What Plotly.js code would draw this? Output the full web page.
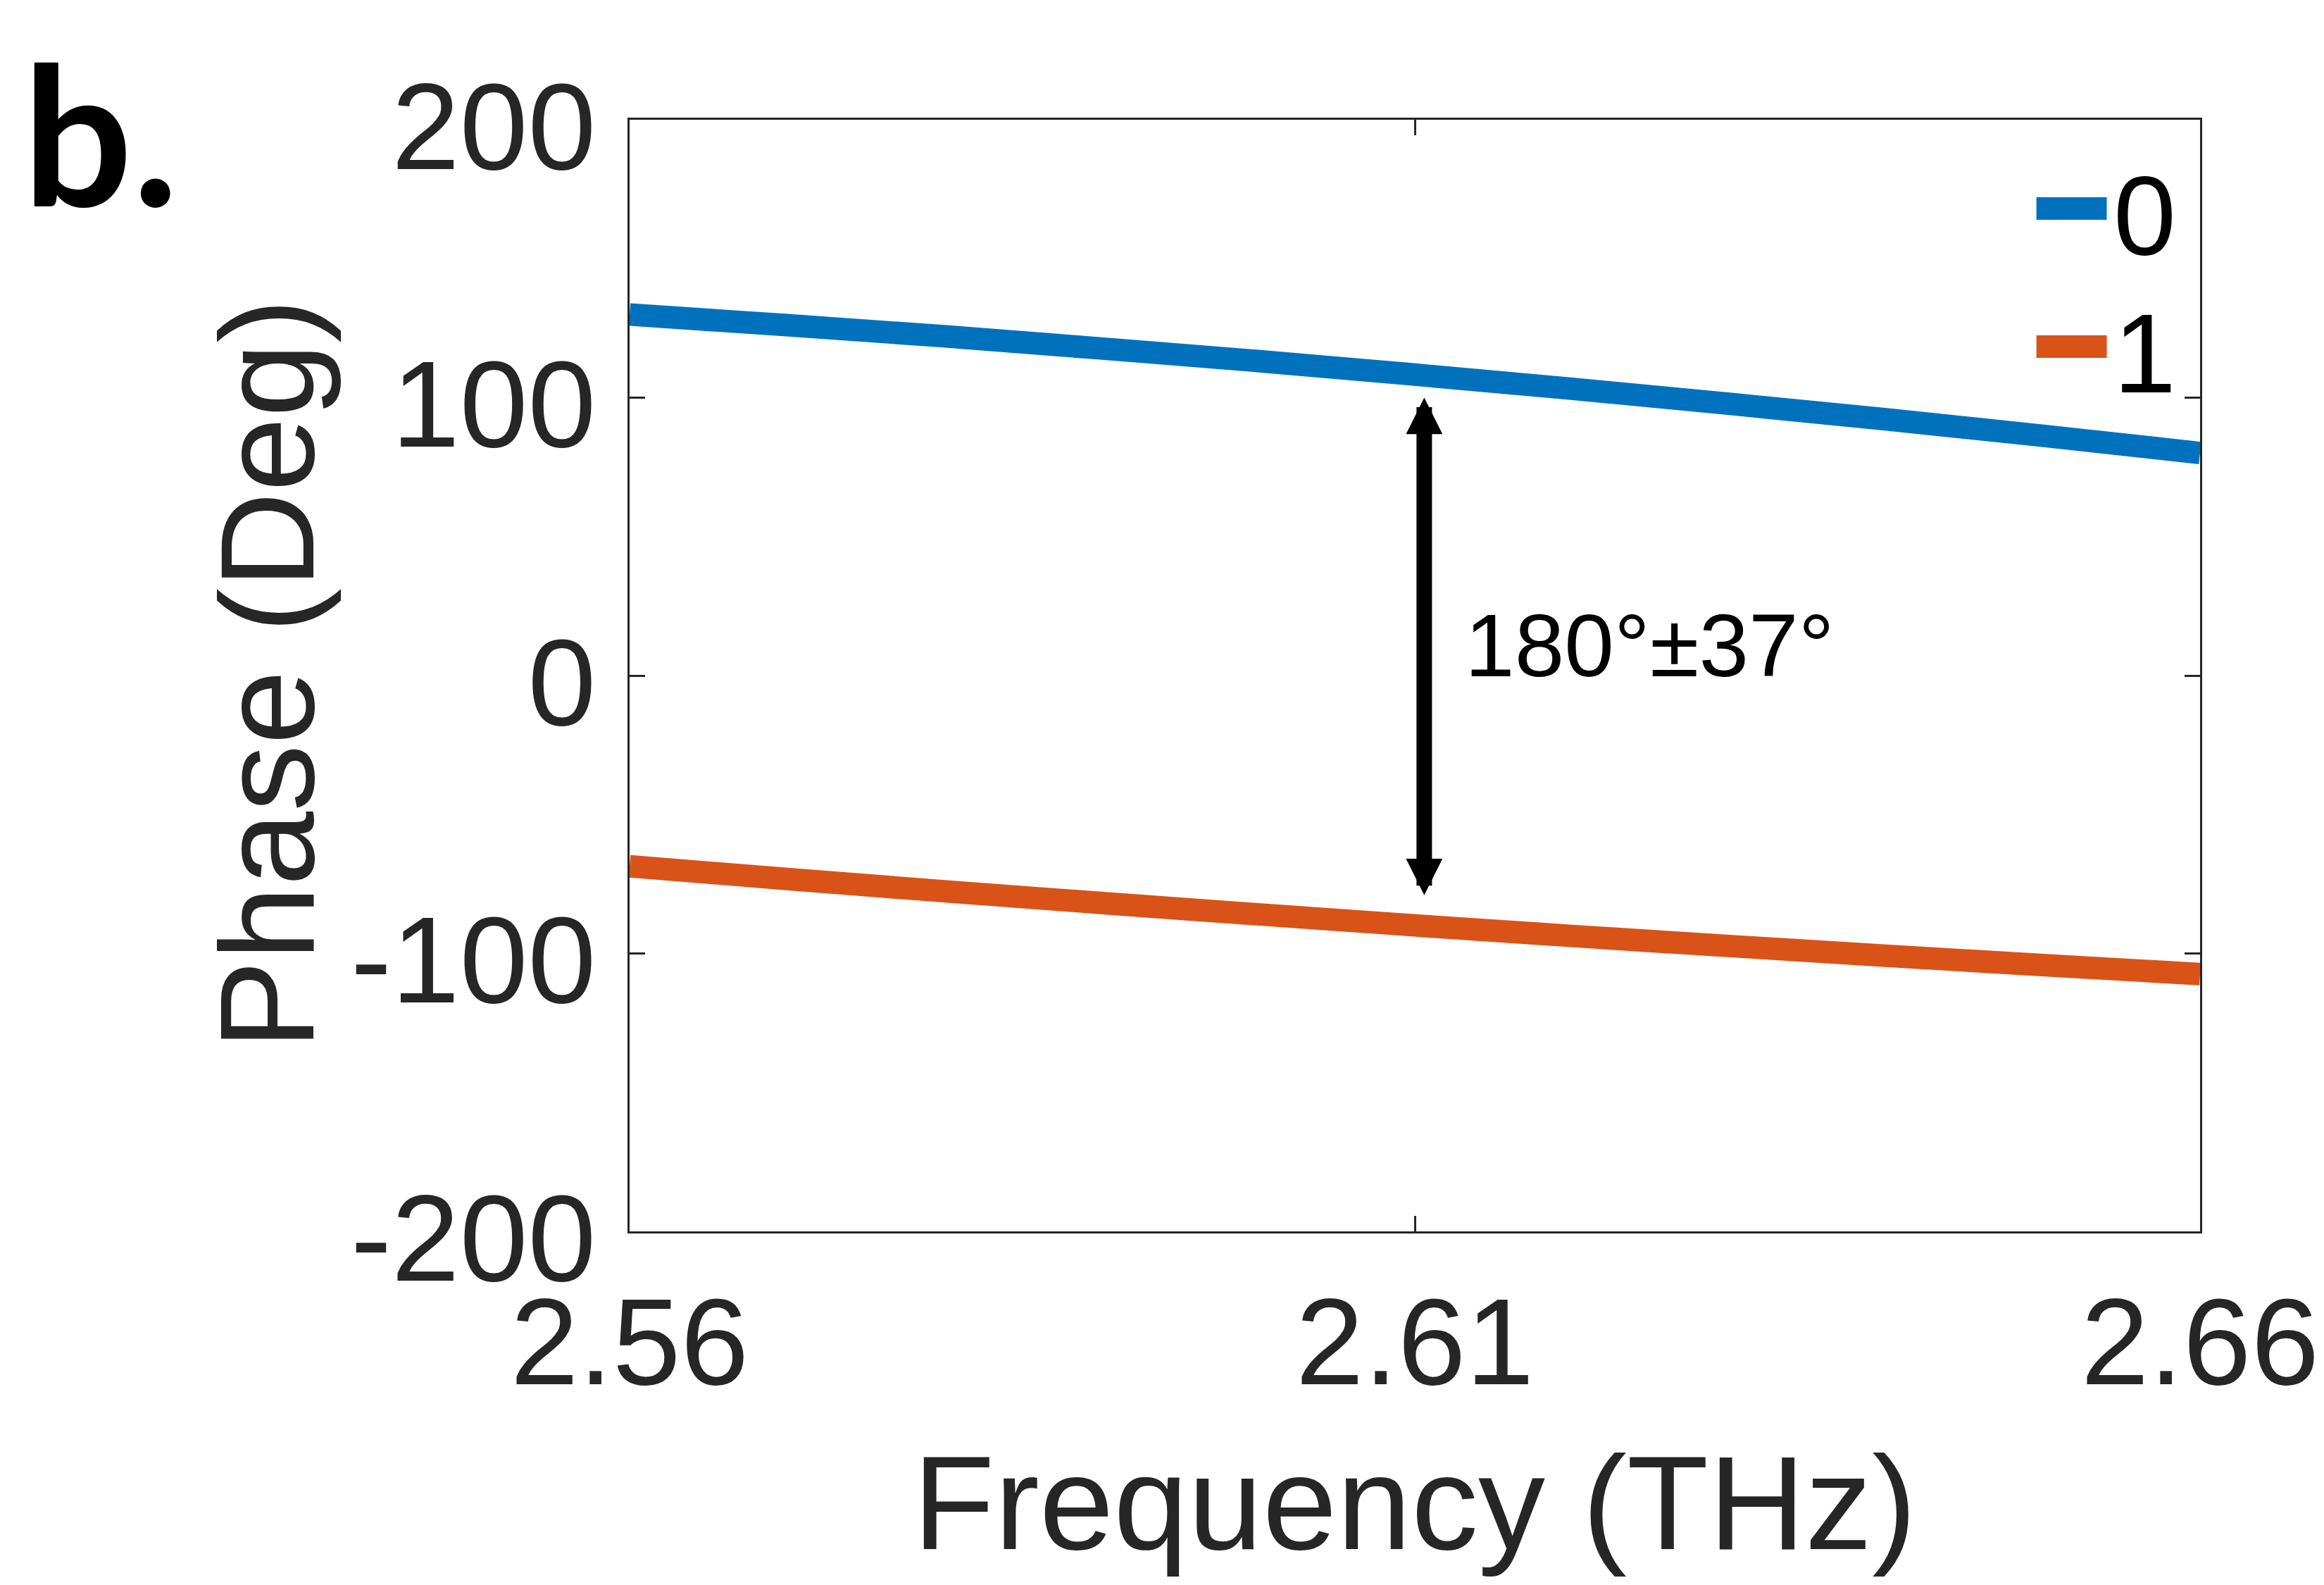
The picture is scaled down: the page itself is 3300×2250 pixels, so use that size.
<!DOCTYPE html>
<html><head><meta charset="utf-8">
<script src="https://cdn.plot.ly/plotly-3.0.1.min.js"></script>
<style>html,body{margin:0;padding:0;background:#fff}#chart{width:3300px;height:2250px}</style>
</head><body><div id="chart"></div>
<script>
// Data
const freq = [2.56, 2.57, 2.58, 2.59, 2.60, 2.61, 2.62, 2.63, 2.64, 2.65, 2.66];
const phase0 = [129.9, 126.1, 122.1, 117.7, 113.2, 108.3, 103.2, 97.8, 92.2, 86.3, 80.1];
const phase1 = [-68.6, -73.2, -77.6, -81.8, -85.9, -89.9, -93.7, -97.3, -100.8, -104.2, -107.4];
const seriesNames = ['0', '1'];
const seriesColors = ['#0072BD', '#D95319'];
const xTicks = [2.56, 2.61, 2.66];
const xTickText = ['2.56', '2.61', '2.66'];
const yTicks = [-200, -100, 0, 100, 200];
const yTickText = ['-200', '-100', '0', '100', '200'];
const arrowX = 2.6106;
const arrowTop = 100;
const arrowBottom = -79.4;
const noteX = 2.6131;
const noteY = 11;
const noteText = '180°±37°';
const panelLabel = 'b.';
const xTitle = 'Frequency (THz)';
const yTitle = 'Phase (Deg)';

const axisColor = '#262626';
const sans = 'Liberation Sans, Arial, sans-serif';
const tickFont = {family: sans, size: 174, color: axisColor};
const titleFont = {family: sans, size: 190, color: axisColor};

const traces = [phase0, phase1].map((ys, i) => ({
  type: 'scatter', mode: 'lines', x: freq, y: ys, name: seriesNames[i],
  line: {color: seriesColors[i], width: 32, shape: 'spline', smoothing: 1},
  showlegend: false
}));

// hand-drawn legend (thick MATLAB-style legend lines)
const legendRows = [0.9202, 0.7959];
const legendShapes = seriesNames.map((n, i) => ({
  type: 'line', xref: 'paper', yref: 'paper',
  x0: 0.8958, x1: 0.9406, y0: legendRows[i], y1: legendRows[i],
  line: {color: seriesColors[i], width: 32}
}));
const legendTexts = seriesNames.map((n, i) => ({
  x: 0.944, y: legendRows[i] - 0.006, xref: 'paper', yref: 'paper',
  xanchor: 'left', yanchor: 'middle', showarrow: false, text: n,
  font: {family: sans, size: 160, color: '#000000'}
}));

const layout = {
  width: 3300, height: 2250,
  margin: {l: 894, r: 176, t: 170, b: 502},
  paper_bgcolor: '#ffffff', plot_bgcolor: '#ffffff',
  showlegend: false,
  xaxis: {
    range: [2.56, 2.66], tickmode: 'array', tickvals: xTicks, ticktext: xTickText,
    ticks: 'inside', ticklen: 22, tickwidth: 3, tickcolor: axisColor,
    showline: true, linecolor: axisColor, linewidth: 3, mirror: 'ticks',
    showgrid: false, zeroline: false, tickfont: tickFont, ticklabelstandoff: 5,
    title: {text: xTitle, font: titleFont, standoff: 66}
  },
  yaxis: {
    range: [-200, 200], tickmode: 'array', tickvals: yTicks, ticktext: yTickText,
    ticks: 'inside', ticklen: 22, tickwidth: 3, tickcolor: axisColor,
    showline: true, linecolor: axisColor, linewidth: 3, mirror: 'ticks',
    showgrid: false, zeroline: false, tickfont: tickFont, ticklabelstandoff: 10,
    ticklabelshift: 9
  },
  shapes: legendShapes,
  annotations: [
    {
      x: arrowX, y: arrowTop, xref: 'x', yref: 'y',
      ax: arrowX, ay: arrowBottom, axref: 'x', ayref: 'y',
      text: '', showarrow: true, arrowside: 'end+start',
      arrowhead: 2, startarrowhead: 2, arrowsize: 0.47, startarrowsize: 0.47,
      arrowwidth: 22, arrowcolor: '#000000', standoff: 0, startstandoff: 0
    },
    {
      x: noteX, y: noteY, xref: 'x', yref: 'y', xanchor: 'left', yanchor: 'middle',
      text: noteText, showarrow: false,
      font: {family: sans, size: 127, color: '#000000'}
    },
    {
      x: -0.2309, y: 0.5013, xref: 'paper', yref: 'paper', xanchor: 'center', yanchor: 'middle',
      text: yTitle, textangle: -90, showarrow: false, font: titleFont
    },
    {
      x: -0.3874, y: 1.095, xref: 'paper', yref: 'paper', xanchor: 'left', yanchor: 'top',
      text: '<b>' + panelLabel + '</b>', showarrow: false,
      font: {family: 'Lato, Noto Sans, sans-serif', size: 275, color: '#000000'}
    }
  ].concat(legendTexts)
};

Plotly.newPlot('chart', traces, layout, {staticPlot: true, displayModeBar: false});
</script>
</body></html>
